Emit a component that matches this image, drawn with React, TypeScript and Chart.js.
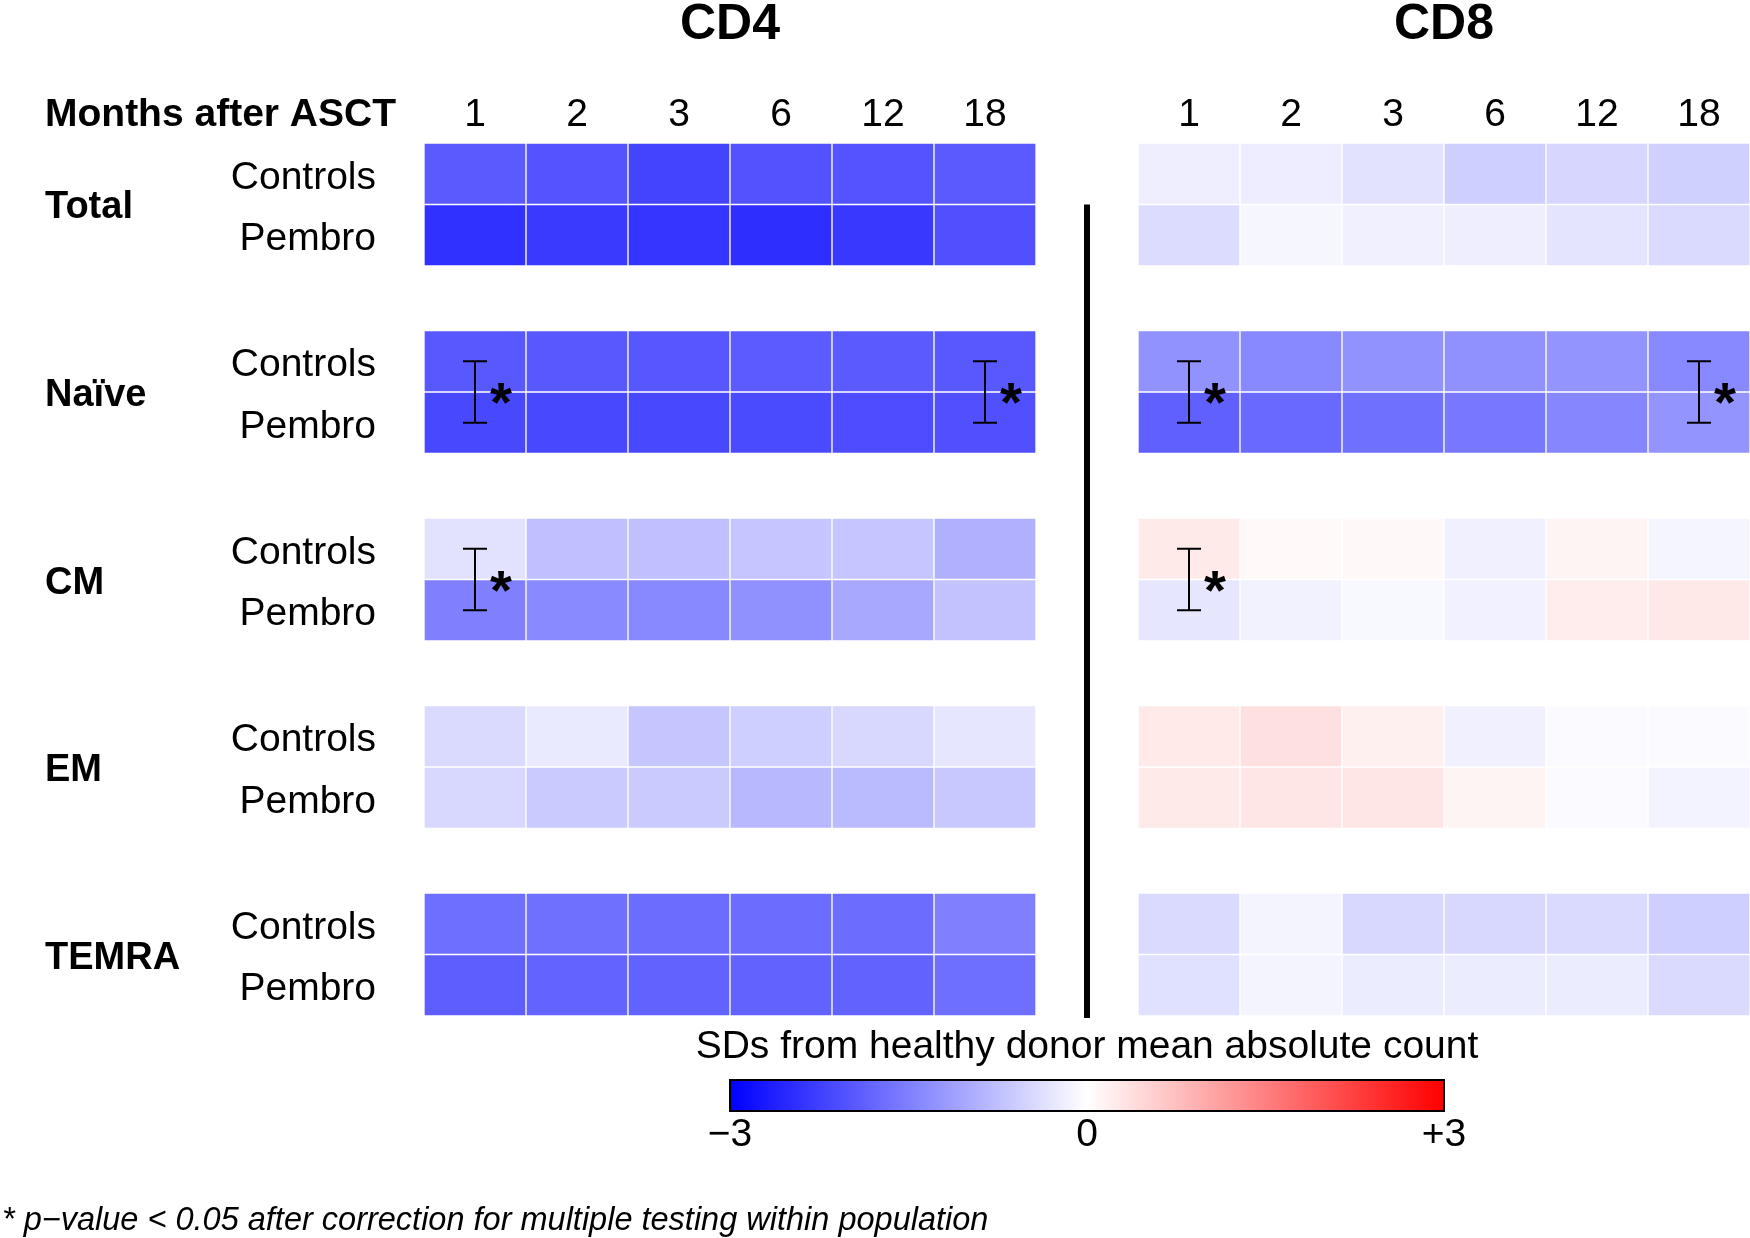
import React, { useEffect, useRef } from 'react';
import { Chart, registerables } from 'chart.js';

Chart.register(...registerables);

// ---------- data ----------
const months = ['1', '2', '3', '6', '12', '18'];
const populations = ['Total', 'Naïve', 'CM', 'EM', 'TEMRA'];
const cohorts = ['Controls', 'Pembro'];
const panels = ['CD4', 'CD8'];

// SDs from healthy donor mean absolute count, [Controls, Pembro] by month
const cd4Total = [
  [-1.94, -2.01, -2.2, -2.04, -2.01, -1.94],
  [-2.44, -2.32, -2.38, -2.46, -2.34, -2.06],
];
const cd4Naive = [
  [-1.96, -1.97, -1.98, -1.93, -1.94, -1.97],
  [-2.15, -2.15, -2.15, -2.13, -2.09, -2.06],
];
const cd4CM = [
  [-0.34, -0.74, -0.74, -0.68, -0.68, -0.93],
  [-1.49, -1.38, -1.4, -1.31, -1.02, -0.72],
];
const cd4EM = [
  [-0.44, -0.25, -0.67, -0.58, -0.46, -0.29],
  [-0.46, -0.62, -0.62, -0.84, -0.81, -0.65],
];
const cd4TEMRA = [
  [-1.71, -1.68, -1.73, -1.73, -1.73, -1.49],
  [-1.89, -1.84, -1.85, -1.85, -1.85, -1.71],
];

const cd8Total = [
  [-0.2, -0.21, -0.34, -0.58, -0.48, -0.55],
  [-0.41, -0.11, -0.18, -0.2, -0.32, -0.44],
];
const cd8Naive = [
  [-1.28, -1.4, -1.28, -1.31, -1.26, -1.4],
  [-1.87, -1.76, -1.68, -1.59, -1.42, -1.26],
];
const cd8CM = [
  [0.25, 0.07, 0.08, -0.18, 0.13, -0.12],
  [-0.29, -0.15, -0.08, -0.16, 0.21, 0.27],
];
const cd8EM = [
  [0.26, 0.36, 0.18, -0.18, -0.05, -0.05],
  [0.25, 0.29, 0.29, 0.13, -0.05, -0.14],
];
const cd8TEMRA = [
  [-0.44, -0.13, -0.46, -0.46, -0.44, -0.58],
  [-0.36, -0.13, -0.22, -0.22, -0.22, -0.44],
];

const cd4Rows = [cd4Total, cd4Naive, cd4CM, cd4EM, cd4TEMRA];
const cd8Rows = [cd8Total, cd8Naive, cd8CM, cd8EM, cd8TEMRA];

// significant comparisons (population, month)
const sigCD4 = [['Naïve', '1'], ['Naïve', '18'], ['CM', '1']];
const sigCD8 = [['Naïve', '1'], ['Naïve', '18'], ['CM', '1']];

const scaleMin = -3;
const scaleMax = 3;
const scaleTickLabels = ['−3', '0', '+3'];
const colorbarTitle = 'SDs from healthy donor mean absolute count';
const axisTitle = 'Months after ASCT';
const footnote = '* p−value < 0.05 after correction for multiple testing within population';

// ---------- layout constants ----------
const W = 1750;
const H = 1238;
const GAP = 1.049; // gap between population blocks in row units
const YMAX = populations.length * 2 + (populations.length - 1) * GAP;
const FONT = '"Liberation Sans", Arial, Helvetica, sans-serif';

const rowTop = (g: number, r: number) => g * (2 + GAP) + r;

function sdColor(v: number): string {
  const t = Math.max(-1, Math.min(1, v / scaleMax));
  if (t < 0) {
    const c = Math.round(255 * (1 + t));
    return `rgb(${c},${c},255)`;
  }
  const c = Math.round(255 * (1 - t));
  return `rgb(255,${c},${c})`;
}

const xLabels = [
  ...months.map((m) => `CD4 ${m}`),
  'gap',
  ...months.map((m) => `CD8 ${m}`),
];

function buildDatasets() {
  const ds: any[] = [];
  populations.forEach((_, g) => {
    cohorts.forEach((_c, r) => {
      const top = rowTop(g, r);
      const span: [number, number] = [top, top + 1];
      const v4 = cd4Rows[g][r];
      const v8 = cd8Rows[g][r];
      ds.push({
        label: `${populations[g]} ${cohorts[r]}`,
        data: [...v4.map(() => span), null, ...v8.map(() => span)],
        backgroundColor: [...v4.map(sdColor), 'rgba(0,0,0,0)', ...v8.map(sdColor)],
        borderColor: 'rgba(255,255,255,0.95)',
        borderWidth: 1,
        borderSkipped: false,
        grouped: false,
        barPercentage: 1,
        categoryPercentage: 1,
      });
    });
  });
  return ds;
}

const overlayPlugin = {
  id: 'overlay',
  afterDraw(chart: any) {
    const { ctx, chartArea: ca } = chart;
    const x = chart.scales.x;
    const y = chart.scales.y;
    ctx.save();
    ctx.fillStyle = '#000';
    ctx.strokeStyle = '#000';
    ctx.textBaseline = 'alphabetic';

    const colPx = (panel: number, i: number) => x.getPixelForValue(panel === 0 ? i : i + months.length + 1);

    // panel titles
    ctx.font = `bold 50px ${FONT}`;
    ctx.textAlign = 'center';
    panels.forEach((p, k) => {
      const cx = (colPx(k, 0) + colPx(k, months.length - 1)) / 2;
      ctx.fillText(p, cx, 39);
    });

    // month labels
    ctx.font = `39px ${FONT}`;
    ctx.textAlign = 'center';
    panels.forEach((_, k) => {
      months.forEach((m, i) => ctx.fillText(m, colPx(k, i), ca.top - 17));
    });
    ctx.font = `bold 39px ${FONT}`;
    ctx.textAlign = 'left';
    ctx.fillText(axisTitle, 45, ca.top - 17);

    // population & cohort labels
    populations.forEach((pop, g) => {
      const gc = y.getPixelForValue(rowTop(g, 1));
      ctx.font = `bold 38px ${FONT}`;
      ctx.textAlign = 'left';
      ctx.fillText(pop, 45, gc + 14);
      cohorts.forEach((c, r) => {
        const rc = y.getPixelForValue(rowTop(g, r) + 0.5);
        ctx.font = `39px ${FONT}`;
        ctx.textAlign = 'right';
        ctx.fillText(c, ca.left - 48, rc + 15);
      });
    });

    // separator line
    const sepX = x.getPixelForValue(months.length);
    ctx.lineWidth = 6;
    ctx.beginPath();
    ctx.moveTo(sepX, y.getPixelForValue(rowTop(0, 1)));
    ctx.lineTo(sepX, ca.bottom + 2);
    ctx.stroke();

    // significance brackets
    ctx.textAlign = 'left';
    ctx.font = `bold 100px ${FONT}`;
    const m = ctx.measureText('*');
    const aw = m.actualBoundingBoxLeft + m.actualBoundingBoxRight;
    const starSize = (100 * 22) / aw;
    [sigCD4, sigCD8].forEach((list, k) => {
      list.forEach(([pop, month]) => {
        const g = populations.indexOf(pop);
        const i = months.indexOf(month);
        const cx = colPx(k, i);
        const y0 = y.getPixelForValue(rowTop(g, 0) + 0.5);
        const y1 = y.getPixelForValue(rowTop(g, 1) + 0.5);
        ctx.lineWidth = 2;
        ctx.beginPath();
        ctx.moveTo(cx, y0);
        ctx.lineTo(cx, y1);
        ctx.moveTo(cx - 12, y0);
        ctx.lineTo(cx + 12, y0);
        ctx.moveTo(cx - 12, y1);
        ctx.lineTo(cx + 12, y1);
        ctx.stroke();
        ctx.textAlign = 'left';
        ctx.font = `bold ${starSize}px ${FONT}`;
        const sm = ctx.measureText('*');
        const sx = cx + 26 - (sm.actualBoundingBoxRight - sm.actualBoundingBoxLeft) / 2;
        const sc = y.getPixelForValue(rowTop(g, 1)) + 2;
        const sy = sc + (sm.actualBoundingBoxAscent - sm.actualBoundingBoxDescent) / 2;
        ctx.fillText('*', sx, sy);
      });
    });

    // colour bar
    const cbL = x.getPixelForValue((months.length - 1) / 2);
    const cbR = x.getPixelForValue(months.length + 1 + (months.length - 1) / 2);
    const cbT = ca.bottom + 64;
    const cbB = ca.bottom + 95;
    const grad = ctx.createLinearGradient(cbL, 0, cbR, 0);
    grad.addColorStop(0, sdColor(scaleMin));
    grad.addColorStop(0.5, sdColor(0));
    grad.addColorStop(1, sdColor(scaleMax));
    ctx.fillStyle = grad;
    ctx.fillRect(cbL, cbT, cbR - cbL, cbB - cbT);
    ctx.lineWidth = 2;
    ctx.strokeStyle = '#000';
    ctx.strokeRect(cbL, cbT, cbR - cbL, cbB - cbT);

    ctx.fillStyle = '#000';
    ctx.font = `39px ${FONT}`;
    ctx.textAlign = 'center';
    ctx.fillText(colorbarTitle, (cbL + cbR) / 2, ca.bottom + 42);
    scaleTickLabels.forEach((t, i) => {
      const px = cbL + ((cbR - cbL) * i) / (scaleTickLabels.length - 1);
      ctx.fillText(t, px, ca.bottom + 130);
    });

    // footnote
    ctx.font = `italic 32.5px ${FONT}`;
    ctx.textAlign = 'left';
    ctx.fillText(footnote, 2, H - 8);

    ctx.restore();
  },
};

export default function App() {
  const ref = useRef<HTMLCanvasElement | null>(null);

  useEffect(() => {
    document.body.style.margin = '0';
    const canvas = ref.current;
    if (!canvas) return;
    const chart = new Chart(canvas, {
      type: 'bar',
      data: { labels: xLabels, datasets: buildDatasets() },
      options: {
        animation: false,
        responsive: false,
        devicePixelRatio: 1,
        layout: { padding: { left: 424, right: 0, top: 143, bottom: H - 1016 } },
        plugins: { legend: { display: false }, tooltip: { enabled: false } },
        scales: {
          x: { type: 'category', display: false, offset: true, grid: { display: false } },
          y: { type: 'linear', display: false, min: 0, max: YMAX, reverse: true, grid: { display: false } },
        },
      },
      plugins: [overlayPlugin],
    } as any);
    return () => chart.destroy();
  }, []);

  return (
    <div style={{ width: W, height: H, background: '#fff' }}>
      <canvas ref={ref} width={W} height={H} style={{ display: 'block' }} />
    </div>
  );
}
